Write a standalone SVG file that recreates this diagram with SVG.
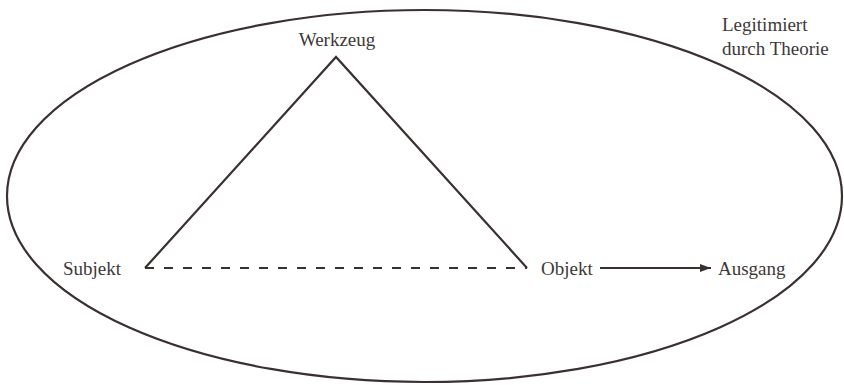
<svg xmlns="http://www.w3.org/2000/svg" width="844" height="385" viewBox="0 0 844 385">
<style>
text{font-family:"Liberation Serif","Times New Roman",serif;font-size:19px;fill:#3d3838}
.ln{stroke:#3a3030;stroke-width:2.2;fill:none}
</style>
<defs>
<marker id="ah" markerWidth="12" markerHeight="9" refX="11" refY="4" orient="auto" markerUnits="userSpaceOnUse">
<path d="M0,0 L11,4 L0,8 Z" fill="#3a3030"/>
</marker>
</defs>
<rect width="844" height="385" fill="#fff"/>
<g id="boundary">
<ellipse cx="424.5" cy="196" rx="417.5" ry="186" class="ln" stroke-width="2"/>
<text x="722" y="31">Legitimiert</text>
<text x="722" y="55">durch Theorie</text>
</g>
<g id="connectors">
<polyline class="ln" points="145,268 336,57 527,268"/>
<line class="ln" x1="145" y1="268" x2="527" y2="268" stroke-dasharray="9,10"/>
<line class="ln" x1="600" y1="268" x2="711" y2="268" marker-end="url(#ah)"/>
</g>
<g id="werkzeug"><text x="337" y="46" text-anchor="middle">Werkzeug</text></g>
<g id="subjekt"><text x="63" y="275">Subjekt</text></g>
<g id="objekt"><text x="541" y="275">Objekt</text></g>
<g id="ausgang"><text x="718" y="275">Ausgang</text></g>
</svg>
